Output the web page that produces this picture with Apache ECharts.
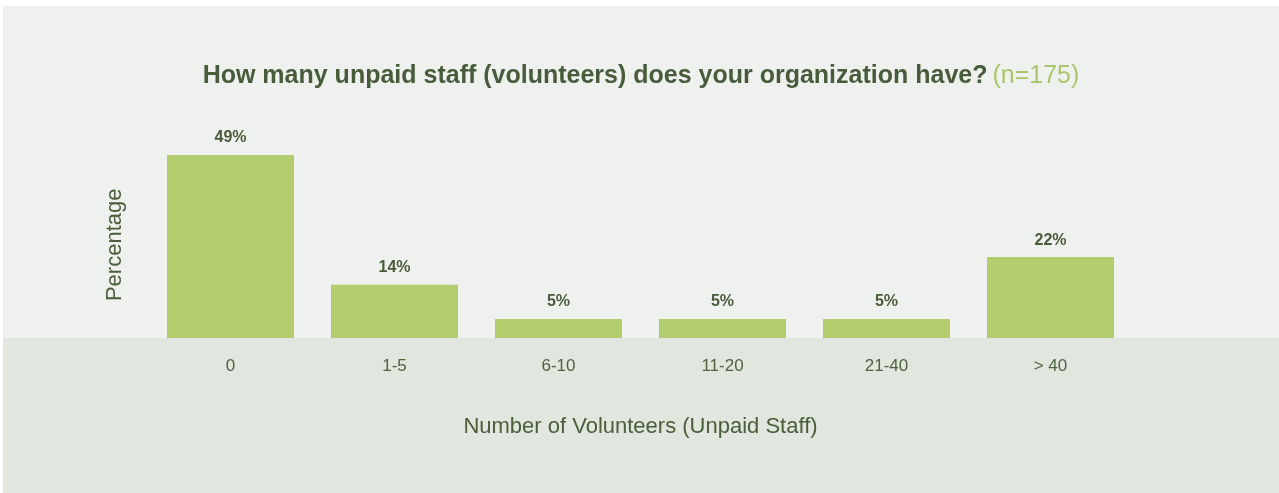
<!DOCTYPE html>
<html>
<head>
<meta charset="utf-8">
<script src="https://cdn.jsdelivr.net/npm/echarts@6/dist/echarts.min.js"></script>
<style>
html,body{margin:0;padding:0;background:#ffffff;width:1279px;height:493px;overflow:hidden;}
#chart{position:absolute;left:3px;top:6px;width:1276px;height:487px;
background:linear-gradient(to bottom,#eff1ee 0px,#eff1ee 332px,#e1e6df 332px,#e1e6df 100%);}
</style>
</head>
<body>
<div id="chart"></div>
<script>
const categories = ['0', '1-5', '6-10', '11-20', '21-40', '> 40'];
const percentValues = [49.1, 14.3, 5.1, 5.1, 5.1, 21.7];
const titleMain = 'How many unpaid staff (volunteers) does your organization have?';
const titleNote = '(n=175)';
const xAxisTitle = 'Number of Volunteers (Unpaid Staff)';
const yAxisTitle = 'Percentage';

const FONT = '"Liberation Sans", Arial, Helvetica, sans-serif';
const chart = echarts.init(document.getElementById('chart'));
chart.setOption({
  backgroundColor: 'transparent',
  animation: false,
  title: {
    text: '{a|' + titleMain + '} {b|' + titleNote + '}',
    left: 'center',
    top: 53,
    textStyle: {
      rich: {
        a: {fontFamily: FONT, fontSize: 25, fontWeight: 'bold', color: '#485c3b'},
        b: {fontFamily: FONT, fontSize: 25, fontWeight: 'normal', color: '#a8c76c'}
      }
    }
  },
  grid: {left: 145.5, right: 146.5, top: 145.6, bottom: 155, containLabel: false},
  xAxis: {
    type: 'category',
    data: categories,
    axisLine: {show: false},
    axisTick: {show: false},
    axisLabel: {color: '#4f6340', fontFamily: FONT, fontSize: 17, margin: 20},
    name: xAxisTitle,
    nameLocation: 'middle',
    nameGap: 78,
    nameTextStyle: {color: '#4a5e3a', fontFamily: FONT, fontSize: 22}
  },
  yAxis: {
    type: 'value',
    min: 0,
    max: 50,
    axisLine: {show: false},
    axisTick: {show: false},
    axisLabel: {show: false},
    splitLine: {show: false},
    name: yAxisTitle,
    nameLocation: 'middle',
    nameGap: 23,
    nameTextStyle: {color: '#4a5e3a', fontFamily: FONT, fontSize: 22}
  },
  series: [{
    type: 'bar',
    data: percentValues,
    barWidth: 127,
    itemStyle: {color: '#b3cd6e'},
    label: {
      show: true,
      position: 'top',
      distance: 9,
      color: '#485c3b',
      fontFamily: FONT,
      fontSize: 16,
      fontWeight: 'bold',
      formatter: p => Math.round(p.value) + '%'
    }
  }]
});
</script>
</body>
</html>
